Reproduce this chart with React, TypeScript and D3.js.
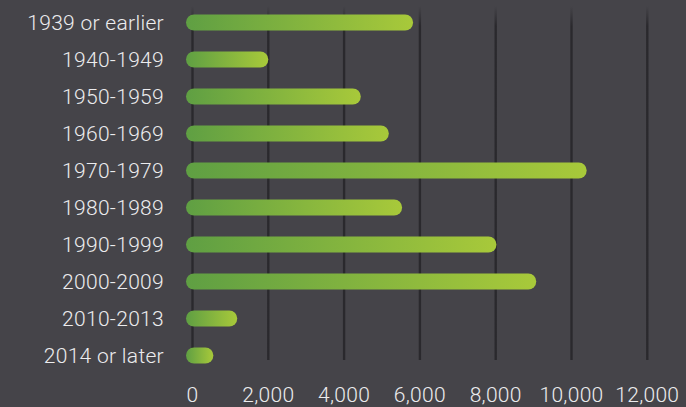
import React, { useEffect, useRef } from 'react';
import * as d3 from 'd3';

const categories = [
  '1939 or earlier', '1940-1949', '1950-1959', '1960-1969', '1970-1979',
  '1980-1989', '1990-1999', '2000-2009', '2010-2013', '2014 or later',
];
const values = [5820, 2000, 4440, 5180, 10400, 5530, 8020, 9070, 1180, 550];
const ticks = [0, 2000, 4000, 6000, 8000, 10000, 12000];

const App = () => {
  const ref = useRef<SVGSVGElement>(null);

  useEffect(() => {
    document.body.style.margin = '0';
    document.body.style.background = '#454449';
    if (!ref.current) return;
    const width = 686, height = 407;
    const svg = d3.select(ref.current);
    svg.selectAll('*').remove();
    svg.attr('width', width).attr('height', height);

    svg.append('rect').attr('width', width).attr('height', height).attr('fill', '#454449');

    const defs = svg.append('defs');
    const barGrad = defs.append('linearGradient').attr('id', 'barGrad')
      .attr('x1', 0).attr('x2', 1).attr('y1', 0).attr('y2', 0);
    barGrad.append('stop').attr('offset', '0%').attr('stop-color', '#5f9f43');
    barGrad.append('stop').attr('offset', '100%').attr('stop-color', '#a8c93a');

    const gridGrad = defs.append('linearGradient').attr('id', 'gridGrad')
      .attr('gradientUnits', 'userSpaceOnUse')
      .attr('x1', 0).attr('x2', 0).attr('y1', 6).attr('y2', 26);
    gridGrad.append('stop').attr('offset', '0%').attr('stop-color', '#2a292d').attr('stop-opacity', 0);
    gridGrad.append('stop').attr('offset', '100%').attr('stop-color', '#2a292d').attr('stop-opacity', 1);

    const x = d3.scaleLinear().domain([0, 12000]).range([192.5, 647.3]);
    const y = d3.scaleBand().domain(categories).range([4, 374]);
    const barH = 16;
    const font = 'Roboto, "Liberation Sans", Arial, sans-serif';

    // grid lines
    svg.append('g').selectAll('line').data(ticks).enter().append('line')
      .attr('x1', d => x(d)).attr('x2', d => x(d))
      .attr('y1', 6).attr('y2', 360)
      .attr('stroke', 'url(#gridGrad)')
      .attr('stroke-width', 2.4);

    // bars
    const rows = categories.map((c, i) => ({ name: c, value: values[i] }));
    svg.append('g').selectAll('rect').data(rows).enter().append('rect')
      .attr('x', x(0) - 6.5)
      .attr('y', d => y(d.name)! + y.bandwidth() / 2 - barH / 2)
      .attr('width', d => x(d.value) - x(0) + 6.5)
      .attr('height', barH)
      .attr('rx', barH / 2)
      .attr('fill', 'url(#barGrad)');

    // category labels
    svg.append('g').selectAll('text').data(rows).enter().append('text')
      .text(d => d.name)
      .attr('x', 164)
      .attr('y', d => y(d.name)! + y.bandwidth() / 2 + 7.3)
      .attr('text-anchor', 'end')
      .style('font-family', font)
      .style('font-weight', 300)
      .style('font-size', '21px')
      .style('letter-spacing', '0.3px')
      .style('fill', '#ececee');

    // tick labels
    svg.append('g').selectAll('text').data(ticks).enter().append('text')
      .text(d => d3.format(',')(d))
      .attr('x', d => x(d))
      .attr('y', 401.5)
      .attr('text-anchor', 'middle')
      .style('font-family', font)
      .style('font-weight', 300)
      .style('font-size', '21px')
      .style('letter-spacing', '0.3px')
      .style('fill', '#ececee');
  }, []);

  return <svg ref={ref} style={{ display: 'block' }}></svg>;
};

export default App;
